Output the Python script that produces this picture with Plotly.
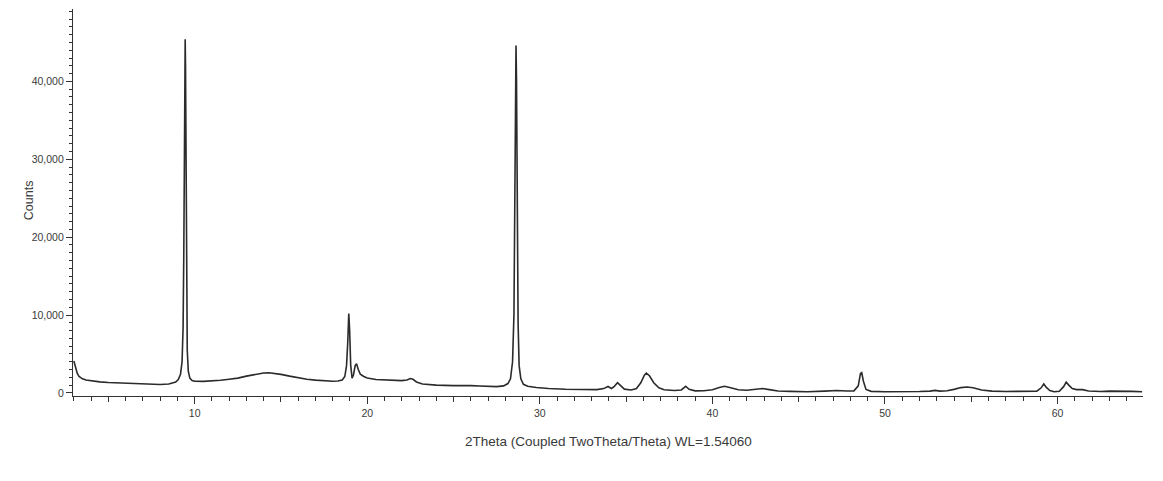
import plotly.graph_objects as go

two_theta = [
    3.0, 3.1, 3.2, 3.3, 3.5, 3.7, 4.0, 4.5, 5.0, 5.5, 6.0, 6.5, 7.0, 7.5, 8.0, 8.5, 8.7, 8.9,
    9.05, 9.18, 9.27, 9.33, 9.37, 9.40, 9.43, 9.45, 9.47, 9.50, 9.53, 9.57, 9.63, 9.72, 9.85,
    10.0, 10.5, 11.0, 11.5, 12.0, 12.5, 13.0, 13.5, 14.0, 14.3, 14.6, 15.0, 15.5, 16.0, 16.5,
    17.0, 17.5, 18.0, 18.3, 18.55, 18.7, 18.8, 18.87, 18.93, 18.98, 19.04, 19.12, 19.2, 19.3,
    19.38, 19.48, 19.6, 19.8, 20.0, 20.5, 21.0, 21.5, 22.0, 22.3, 22.5, 22.65, 22.85, 23.2,
    24.0, 25.0, 25.6, 25.8, 26.0, 26.5, 27.0, 27.5, 27.9, 28.15, 28.3, 28.42, 28.5, 28.55,
    28.59, 28.62, 28.65, 28.69, 28.74, 28.8, 28.9, 29.05, 29.3, 29.8, 30.5, 31.5, 32.5, 33.3,
    33.7, 33.95, 34.15, 34.3, 34.5, 34.7, 34.9, 35.3, 35.6, 35.85, 36.05, 36.17, 36.35, 36.6,
    36.9, 37.2, 37.8, 38.2, 38.45, 38.65, 39.0, 39.5, 40.0, 40.4, 40.7, 41.0, 41.5, 42.0, 42.5,
    42.9, 43.3, 43.8, 44.5, 45.5, 46.5, 47.2, 47.8, 48.2, 48.45, 48.58, 48.65, 48.75, 48.9,
    49.2, 50.0, 51.0, 52.0, 52.6, 52.9, 53.2, 53.6, 54.0, 54.4, 54.75, 55.1, 55.6, 56.2, 57.0,
    58.0, 58.8, 59.05, 59.2, 59.35, 59.55, 59.8, 60.1, 60.35, 60.5, 60.65, 60.85, 61.1, 61.45,
    61.8, 62.5, 63.0, 63.7, 64.3, 64.9,
]
counts = [
    4100, 3200, 2500, 2100, 1800, 1650, 1550, 1420, 1330, 1280, 1240, 1180, 1100, 1040, 1080, 1150, 1250, 1400,
    1700, 2400, 4000, 8500, 18000, 32000, 44000, 45400, 42000, 28000, 13000, 5500, 2800, 1900, 1600,
    1500, 1480, 1520, 1620, 1750, 1900, 2150, 2380, 2550, 2580, 2520, 2380, 2150, 1930, 1760,
    1640, 1550, 1500, 1520, 1650, 2100, 3500, 6500, 10200, 8000, 3600, 1900, 2300, 3500,
    3750, 3000, 2400, 2100, 1900, 1720, 1650, 1600, 1580, 1650, 1850, 1750, 1400, 1150,
    1000, 930, 940, 1020, 930, 880, 830, 800, 900, 1200, 1800, 4000, 10000, 22000,
    38000, 44600, 40000, 24000, 9000, 3500, 1800, 1100, 850, 700, 560, 470, 420, 420,
    550, 820, 560, 800, 1320, 850, 480, 380, 550, 1300, 2250, 2550, 2200, 1300,
    650, 400, 300, 380, 850, 450, 260, 280, 400, 700, 850, 700, 400, 330, 430,
    560, 420, 250, 190, 150, 230, 300, 250, 260, 900, 2500, 2600, 1500, 450,
    200, 150, 140, 180, 230, 320, 230, 280, 450, 680, 760, 650, 380, 230, 180,
    170, 220, 650, 1150, 700, 300, 150, 200, 800, 1380, 1000, 550, 420, 420,
    250, 170, 230, 250, 200, 150,
]

x_major_ticks = [10, 20, 30, 40, 50, 60]
x_mid_ticks = [5, 15, 25, 35, 45, 55, 65]
y_major_ticks = [0, 10000, 20000, 30000, 40000]
x_title = "2Theta (Coupled TwoTheta/Theta) WL=1.54060"
y_title = "Counts"

axis_col = "#333333"
text_col = "#3a3a3a"
font_fam = "Liberation Sans, Arial, sans-serif"
x_range = [2.95, 64.95]
y_range = [-400, 49300]

fig = go.Figure()
fig.add_trace(go.Scatter(
    x=two_theta, y=counts, mode="lines",
    line=dict(color="#2b2b2b", width=1.6),
    showlegend=False, hoverinfo="x+y",
))
# invisible trace to activate overlay axis for mid-length ticks
fig.add_trace(go.Scatter(x=[x_range[0]], y=[0], xaxis="x2", mode="markers",
                         marker=dict(opacity=0), showlegend=False, hoverinfo="skip"))

fig.update_layout(
    width=1147, height=465,
    margin=dict(l=65, r=12, t=1, b=77),
    paper_bgcolor="white", plot_bgcolor="white",
    font=dict(family=font_fam, color=text_col, size=10.5),
    xaxis=dict(
        range=x_range, tickmode="array", tickvals=x_major_ticks,
        ticktext=[str(v) for v in x_major_ticks],
        ticks="outside", ticklen=7, tickwidth=1, tickcolor=axis_col,
        minor=dict(dtick=1, tick0=0, ticks="outside", ticklen=4, tickcolor=axis_col, tickwidth=1),
        showline=True, linecolor=axis_col, linewidth=1.2,
        showgrid=False, zeroline=False,
        tickfont=dict(size=10.5, color=text_col),
    ),
    xaxis2=dict(
        range=x_range, overlaying="x", side="bottom", anchor="y",
        tickmode="array", tickvals=x_mid_ticks, ticktext=["" for _ in x_mid_ticks],
        ticks="outside", ticklen=5, tickwidth=1, tickcolor=axis_col,
        showline=False, showgrid=False, zeroline=False,
    ),
    yaxis=dict(
        range=y_range, tickmode="array", tickvals=y_major_ticks,
        ticktext=[f"{v:,}" for v in y_major_ticks],
        ticks="outside", ticklen=6, tickwidth=1, tickcolor=axis_col,
        minor=dict(dtick=1000, tick0=0, ticks="outside", ticklen=3, tickcolor=axis_col, tickwidth=1),
        showline=True, linecolor=axis_col, linewidth=1.2,
        showgrid=False, zeroline=False,
        tickfont=dict(size=10.5, color=text_col),
    ),
    annotations=[
        dict(text=x_title, xref="paper", yref="paper", x=0.5, y=0,
             xanchor="center", yanchor="middle", yshift=-45, showarrow=False,
             font=dict(size=13.5, color=text_col)),
        dict(text=y_title, xref="paper", yref="paper", x=0, y=0.506,
             xanchor="center", yanchor="middle", xshift=-44, textangle=-90,
             showarrow=False, font=dict(size=12.5, color=text_col)),
    ],
)

fig.write_html("out.html")
